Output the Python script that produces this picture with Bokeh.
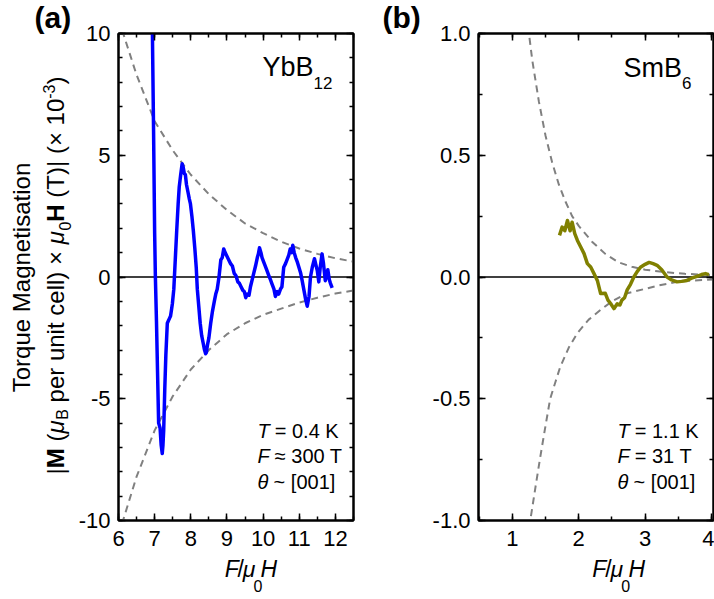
import numpy as np
from bokeh.plotting import figure
from bokeh.models import (Range1d, LinearAxis, SingleIntervalTicker, PrintfTickFormatter, Span,
                          Label, CustomJSTickFormatter)
from bokeh.layouts import row, column
from bokeh.embed import file_html
from bokeh.resources import INLINE

# ---------------- data ----------------
# panel (a): YbB12
ybb_x = [6.93, 6.97, 7.0, 7.02, 7.05, 7.08, 7.11, 7.15, 7.18, 7.21, 7.23, 7.25, 7.28, 7.31, 7.35,
         7.38, 7.41, 7.44, 7.47, 7.49, 7.53, 7.57, 7.61, 7.65, 7.68, 7.72, 7.76, 7.79, 7.82, 7.85,
         7.88, 7.92, 7.96, 7.99, 8.03, 8.07, 8.11, 8.15, 8.18, 8.22, 8.26, 8.3, 8.34, 8.38, 8.41,
         8.43, 8.46, 8.5, 8.55, 8.6, 8.65, 8.69, 8.73, 8.78, 8.83, 8.87, 8.91, 8.95, 9.0, 9.05,
         9.1, 9.15, 9.2, 9.25, 9.3, 9.34, 9.39, 9.44, 9.48, 9.52, 9.56, 9.61, 9.65, 9.7, 9.74,
         9.79, 9.84, 9.87, 9.9, 9.94, 9.97, 10.02, 10.06, 10.11, 10.16, 10.2, 10.25, 10.3, 10.34,
         10.39, 10.43, 10.48, 10.52, 10.57, 10.62, 10.66, 10.71, 10.75, 10.79, 10.82, 10.86, 10.9,
         10.95, 10.99, 11.04, 11.08, 11.13, 11.18, 11.22, 11.27, 11.31, 11.36, 11.42, 11.46, 11.5,
         11.54, 11.58, 11.63, 11.67, 11.72, 11.76, 11.79, 11.83, 11.86, 11.91]
ybb_y = [11.0, 6.0, 1.8, 0.0, -1.8, -3.9, -6.0, -6.2, -6.9, -7.25, -6.9, -6.3, -4.6, -3.2, -1.9,
         -1.8, -1.7, -1.6, -1.3, -1.1, -0.5, 0.7, 1.9, 3.0, 3.7, 4.2, 4.65, 4.5, 4.25, 4.2,
         3.8, 3.5, 3.2, 3.0, 2.5, 1.9, 1.2, 0.4, -0.5, -1.2, -1.9, -2.4, -2.7, -3.0, -3.15,
         -3.1, -2.8, -2.5, -1.9, -1.4, -1.0, -0.7, -0.5, 0.0, 0.7, 0.8, 1.15, 1.0, 0.85, 0.7,
         0.55, 0.45, 0.15, 0.05, -0.2, -0.25, -0.4, -0.55, -0.6, -0.85, -0.7, -0.75, -0.4, -0.1, 0.15,
         0.45, 0.8, 0.95, 1.2, 1.0, 0.8, 0.6, 0.45, 0.25, 0.05, -0.1, -0.3, -0.5, -0.8,
         -0.6, -0.7, -0.5, -0.4, 0.4, 0.55, 0.7, 0.9, 1.15, 1.0, 1.3, 1.0, 0.8,
         0.6, 0.4, 0.15, -0.15, -0.55, -0.95, -1.2, -0.8, 0.0, 0.4, 0.75, 0.5, 0.25,
         -0.2, 0.4, 0.95, 0.55, -0.15, 0.1, 0.3, -0.1, -0.25, -0.45]
ybb_env_x = [6.0, 6.5, 7.0, 7.5, 8.0, 8.5, 9.0, 9.5, 10.0, 10.5, 11.0, 11.5, 12.0, 12.5]
ybb_env_up = [10.6, 8.3, 6.4, 5.2, 4.2, 3.4, 2.75, 2.2, 1.8, 1.45, 1.17, 0.95, 0.77, 0.63]
ybb_env_lo = [-10.6, -8.2, -6.3, -4.9, -3.8, -3.0, -2.35, -1.9, -1.55, -1.3, -1.05, -0.85, -0.68, -0.55]

# panel (b): SmB6
smb_x = [1.71, 1.75, 1.79, 1.83, 1.87, 1.90, 1.94, 1.98, 2.03, 2.08, 2.13, 2.18, 2.23, 2.28, 2.33,
         2.40, 2.44, 2.48, 2.53, 2.58, 2.62, 2.65, 2.69, 2.73, 2.78, 2.83, 2.88, 2.93, 3.0, 3.06,
         3.12, 3.18, 3.25, 3.33, 3.4, 3.48, 3.55, 3.63, 3.7, 3.78, 3.85, 3.91, 3.96]
smb_y = [0.171, 0.205, 0.19, 0.232, 0.19, 0.225, 0.178, 0.15, 0.123, 0.096, 0.055, 0.041, 0.014, -0.014, -0.068,
         -0.067, -0.095, -0.109, -0.13, -0.11, -0.115, -0.095, -0.085, -0.053, -0.03, 0.0, 0.022, 0.04, 0.052, 0.06,
         0.055, 0.048, 0.03, 0.0, -0.012, -0.02, -0.018, -0.014, -0.005, 0.003, 0.01, 0.014, 0.01]
smb_up_x = [1.22, 1.25, 1.3, 1.4, 1.5, 1.6, 1.7, 1.8, 1.9, 2.0, 2.2, 2.4, 2.6, 2.8, 3.0, 3.3, 3.6, 4.03]
smb_up_y = [1.08, 1.0, 0.89, 0.72, 0.58, 0.47, 0.38, 0.31, 0.25, 0.21, 0.145, 0.095, 0.06, 0.042, 0.03, 0.02, 0.013, 0.008]
smb_lo_x = [1.24, 1.27, 1.35, 1.42, 1.5, 1.57, 1.65, 1.72, 1.85, 1.98, 2.15, 2.33, 2.5, 2.73, 2.98, 3.2, 3.48, 3.75, 4.03]
smb_lo_y = [-1.08, -1.0, -0.86, -0.74, -0.61, -0.5, -0.43, -0.37, -0.29, -0.23, -0.175, -0.135, -0.1, -0.067, -0.05, -0.035, -0.02, -0.014, -0.01]

xrange_a = (6.0, 12.5)
yrange_a = (-10.0, 10.0)
xrange_b = (0.49, 4.03)
yrange_b = (-1.0, 1.0)

# ---------------- helpers ----------------
FONT = "Liberation Sans"
DESC = 0.212                  # font descent (em), used to anchor labels by their bottom edge
FW, FH = 235, 487
TOP = 0
AW = {' ': 278, '(': 333, ')': 333, '|': 260, 'M': 833, 'μ': 576, 'B': 667, 'p': 556, 'e': 556,
      'r': 333, 'u': 556, 'n': 556, 'i': 222, 't': 278, 'c': 500, 'l': 222, '×': 584, '-': 333,
      'H': 722, 'T': 611, 'F': 611, '/': 278, 'o': 556, 'q': 556, 'a': 556, 'g': 556, 's': 500,
      'Y': 667, 'b': 556, 'S': 667, 'm': 833, 'θ': 556, '=': 584, '≈': 584, '~': 584, '[': 278,
      ']': 278, '.': 278, 'K': 667}


def tw(s, size):
    return sum(AW.get(c, 556) for c in s) * size / 1000.0


def frame_mapper(fl, ft, xr, yr):
    def f(px, py):
        return (xr[0] + (px - fl) / FW * (xr[1] - xr[0]),
                yr[1] - (py - ft) / FH * (yr[1] - yr[0]))
    return f


def strip_mapper(left, top, h):
    def f(px, py):
        return (px - left, h - (py - top))
    return f


def put(p, m, px, py, text, size, style="normal", angle=0.0, align="left"):
    # (px, py) is the baseline point; the label is anchored at the bottom of its text box
    if angle == 0.0:
        py = py + DESC * size
    else:
        px = px + DESC * size
    x, y = m(px, py)
    p.add_layout(Label(x=x, y=y, text=text, text_font=FONT, text_font_size=f"{size}px",
                       text_font_style=style, angle=angle, text_align=align,
                       text_baseline="bottom", text_color="black"))


def hrun(p, m, px, py, pieces):
    x = px
    for t, s, st, dy, gap in pieces:
        lead = len(t) - len(t.lstrip(' '))
        put(p, m, x + tw(' ' * lead, s), py + dy, t.strip(' '), s, st)
        x += tw(t, s) + gap


def vrun(p, m, px, py, pieces):
    y = py
    for t, s, st, dx in pieces:
        lead = len(t) - len(t.lstrip(' '))
        put(p, m, px + dx, y - tw(' ' * lead, s), t.strip(' '), s, st, angle=np.pi / 2)
        y -= tw(t, s)


def run_len(pieces):
    return sum(tw(pc[0], pc[1]) + (pc[4] if len(pc) > 4 else 0) for pc in pieces)


def style_axis(ax, show, standoff):
    ax.axis_line_color = "black"
    ax.axis_line_width = 2
    ax.major_tick_in = 7
    ax.major_tick_out = 0
    ax.minor_tick_in = 4
    ax.minor_tick_out = 0
    ax.major_tick_line_color = "black"
    ax.major_tick_line_width = 1.5
    ax.minor_tick_line_color = "black"
    ax.minor_tick_line_width = 1.5
    if show:
        ax.major_label_text_font = FONT
        ax.major_label_text_font_size = "22px"
        ax.major_label_text_color = "black"
        ax.major_label_standoff = standoff
    else:
        ax.formatter = CustomJSTickFormatter(code="return ''")
        ax.major_label_text_font_size = "1px"
        ax.major_label_text_color = None
        ax.major_label_standoff = 0


def make_fig(xr, yr, xint, xminor, yint, yminor, yfmt, ml, mr):
    p = figure(frame_width=FW, frame_height=FH, x_range=Range1d(*xr), y_range=Range1d(*yr),
               output_backend="svg", toolbar_location=None, x_axis_location=None,
               y_axis_location=None, min_border_left=ml, min_border_right=mr,
               min_border_top=33, min_border_bottom=36)
    p.grid.visible = False
    p.outline_line_color = "black"
    p.outline_line_width = 2
    p.background_fill_color = "white"
    p.border_fill_color = "white"
    xt = SingleIntervalTicker(interval=xint, num_minor_ticks=xminor)
    yt = SingleIntervalTicker(interval=yint, num_minor_ticks=yminor)
    for loc, tk, fmt, show, so in [("below", xt, "%d", True, 10), ("above", xt, "%d", False, 0),
                                   ("left", yt, yfmt, True, 8), ("right", yt, yfmt, False, 0)]:
        ax = LinearAxis(ticker=tk, formatter=PrintfTickFormatter(format=fmt))
        style_axis(ax, show, so)
        p.add_layout(ax, loc)
    p.add_layout(Span(location=0, dimension="width", line_color="black", line_width=1.5,
                      level="underlay"))
    return p


def make_strip(w, h):
    s = figure(width=w, height=h, x_range=Range1d(0, w), y_range=Range1d(0, h),
               output_backend="svg", toolbar_location=None, x_axis_location=None,
               y_axis_location=None, min_border=0)
    s.grid.visible = False
    s.outline_line_color = None
    s.background_fill_color = "white"
    s.border_fill_color = "white"
    return s


DASH = dict(line_color="#808080", line_width=2, line_dash="7 5")
XLAB = [("F", 23, "italic", 0, 2), ("/", 23, "normal", 0, 0), ("μ", 23, "italic", 0, 0),
        ("0", 16, "normal", 11, 0), ("H", 23, "italic", 0, 0)]
XL = run_len(XLAB)

# layout geometry (page pixels; the page has no margin)
LS_L, LS_W = 0, 73            # left strip (y-axis title, "(a)")
A_L, A_W = 73, 292            # figure (a)
MS_L, MS_W = 365, 60          # middle strip ("(b)")
B_L, B_W = 425, 289           # figure (b)
FIG_H, BOT_H = 556, 43
TOT_H = FIG_H + BOT_H

# ---------------- panel (a) ----------------
pa = make_fig(xrange_a, yrange_a, 1, 2, 5, 5, "%d", 118 - A_L, 12)
ma = frame_mapper(118, 33, xrange_a, yrange_a)
pa.line(ybb_env_x, ybb_env_up, **DASH)
pa.line(ybb_env_x, ybb_env_lo, **DASH)
pa.line(ybb_x, ybb_y, line_color="#0000ff", line_width=3.5, line_join="round")
hrun(pa, ma, 262, 76, [("YbB", 27, "normal", 0, 0), ("12", 17, "normal", 9, 0)])
for py, sym, rest in [(437, "T", "= 0.4 K"), (462.5, "F", "≈ 300 T"), (488, "θ", "~ [001]")]:
    put(pa, ma, 257, py, sym, 20, "italic")
    put(pa, ma, 257 + tw(sym, 20) + 5, py, rest, 20)

left_strip = make_strip(LS_W, TOT_H)
ml = strip_mapper(LS_L, TOP, TOT_H)
put(left_strip, ml, 34, 27, "(a)", 30, "bold")
put(left_strip, ml, 29, 277, "Torque Magnetisation", 24, "normal", angle=np.pi / 2, align="center")
line2 = [("|", 24, "normal", 0), ("M", 24, "bold", 0), (" (", 24, "normal", 0),
         ("μ", 24, "italic", 0), ("B", 16, "normal", 4), (" per unit cell) × ", 24, "normal", 0),
         ("μ", 24, "italic", 0), ("0", 16, "normal", 4), ("H", 24, "bold", 0),
         (" (T)| (× 10", 24, "normal", 0), ("-3", 16, "normal", -12), (")", 24, "normal", 0)]
L2 = run_len(line2)
vrun(left_strip, ml, 63, 275 + L2 / 2, line2)

bot_a = make_strip(A_W, BOT_H)
mba = strip_mapper(A_L, TOP + FIG_H, BOT_H)
hrun(bot_a, mba, 235.5 - XL / 2, 577, XLAB)

# ---------------- panel (b) ----------------
pb = make_fig(xrange_b, yrange_b, 1, 2, 0.5, 2, "%.1f", 478 - B_L, 1)
mb = frame_mapper(478, 33, xrange_b, yrange_b)
pb.line(smb_up_x, smb_up_y, **DASH)
pb.line(smb_lo_x, smb_lo_y, **DASH)
pb.line(smb_x, smb_y, line_color="#808000", line_width=3.5, line_join="round")
hrun(pb, mb, 623, 77, [("SmB", 27, "normal", 0, 0), ("6", 17, "normal", 8, 0)])
for py, sym, rest in [(437, "T", "= 1.1 K"), (462.5, "F", "= 31 T"), (488, "θ", "~ [001]")]:
    put(pb, mb, 617, py, sym, 20, "italic")
    put(pb, mb, 617 + tw(sym, 20) + 5, py, rest, 20)

mid_strip = make_strip(MS_W, TOT_H)
mm = strip_mapper(MS_L, TOP, TOT_H)
put(mid_strip, mm, 382, 27, "(b)", 30, "bold")

bot_b = make_strip(B_W, BOT_H)
mbb = strip_mapper(B_L, TOP + FIG_H, BOT_H)
hrun(bot_b, mbb, 595.5 - XL / 2, 577, XLAB)

layout = row(left_strip, column(pa, bot_a), mid_strip, column(pb, bot_b))
open("out.html", "w").write(file_html(layout, INLINE))
